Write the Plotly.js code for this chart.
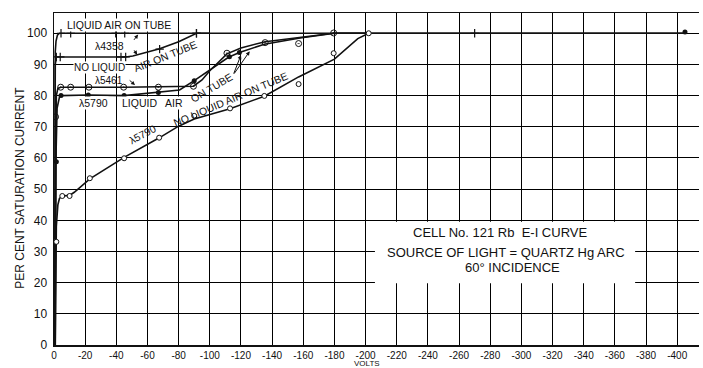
<!DOCTYPE html>
<html><head><meta charset="utf-8">
<script src="https://cdn.plot.ly/plotly-3.0.1.min.js"></script>
<style>html,body{margin:0;padding:0;background:#fff}#chart{width:703px;height:368px}</style>
</head><body><div id="chart"></div>
<script>
// ---- data (volts, per cent saturation current) ----
// lambda 4358, liquid air on tube
const l4358LiqCurveV = [-0.5, -0.8, -1.3, -2.2, -3.5, -405];
const l4358LiqCurveI = [0, 94, 97.5, 99.4, 100, 100];
const l4358LiqPtsV = [-4.5, -10.7, -39.6, -45.4, -91.4, -270];
const l4358LiqPtsI = [100, 100, 100, 100, 100, 100];
// lambda 4358, no liquid air on tube
const l4358NoCurveV = [-0.5, -0.8, -1.5, -46, -50.6, -59.3, -67.8, -80, -91.5, -100];
const l4358NoCurveI = [0, 90, 92.4, 92.4, 92.7, 93.8, 95, 97.3, 100, 100];
const l4358NoPtsV = [-1.5, -4, -43, -46, -67.8, -91.5];
const l4358NoPtsI = [92.4, 92.4, 92.4, 92.4, 94.9, 100];
// lambda 5461
const l5461CurveV = [-0.6, -1, -1.5, -2.5, -4.3, -45, -89.5, -95, -100, -111, -120, -135.5, -158, -179.5, -202];
const l5461CurveI = [0, 73, 80, 82.3, 82.7, 82.7, 83, 85, 88, 93.4, 95.3, 97.3, 98.7, 100, 100];
const l5461PtsV = [-1, -4.3, -10.7, -22.4, -44.7, -67, -89.5, -111, -135.5, -157, -179.5];
const l5461PtsI = [73.2, 82.7, 82.7, 82.7, 82.7, 82.7, 83, 93.6, 97, 96.7, 100.1];
// lambda 5790, liquid air on tube
const l5790LiqCurveV = [-0.8, -1.2, -2, -3.5, -4.5, -22, -45, -67, -80.6, -90, -102, -112, -119, -135, -158, -180, -405];
const l5790LiqCurveI = [0, 59, 76, 79.5, 80, 80.2, 80, 81, 81.8, 84.8, 88.9, 92.3, 93.8, 96.5, 98.5, 100, 100];
const l5790LiqPtsV = [-1.5, -4.5, -22, -45, -67, -90, -112.6, -119, -405];
const l5790LiqPtsI = [58.8, 80, 80.2, 80, 81, 84.8, 92.5, 93.8, 100.4];
// lambda 5790, no liquid air on tube
const l5790NoCurveV = [-0.8, -1, -1.5, -2.5, -3.5, -5.3, -10, -13, -23, -45, -67, -80, -90, -113, -135, -157, -180, -195, -202];
const l5790NoCurveI = [0, 20, 38, 45, 47, 47.8, 48, 49, 53.3, 60.2, 66.3, 70.2, 72.5, 75.8, 79.8, 86, 91.7, 98.3, 100];
const l5790NoPtsV = [-1.5, -5.3, -10, -23, -45, -67.5, -90, -113, -135, -157, -179.5, -202];
const l5790NoPtsI = [33.1, 47.8, 47.8, 53.5, 59.9, 66.5, 73.5, 75.9, 79.9, 83.7, 93.6, 100];
// axis ticks
const xTickVals = [0,-20,-40,-60,-80,-100,-120,-140,-160,-180,-200,-220,-240,-260,-280,-300,-320,-340,-360,-380,-400];
const xTickText = ['0','-20','-40','-60','-80','-100','-120','-140','-160','-180','-200','-220','-240','-260','-280','-300','-320','-340','-360','-380','-400'];
const yTickVals = [0,10,20,30,40,50,60,70,80,90,100];

const FONT = 'Liberation Sans, Arial, sans-serif';
const INK = '#111';
const lineStyle = {color: INK, width: 1.6};
function curve(x, y) { return {x, y, type: 'scatter', mode: 'lines', line: lineStyle, hoverinfo: 'skip', showlegend: false}; }
function pts(x, y, marker) { return {x, y, type: 'scatter', mode: 'markers', marker, hoverinfo: 'skip', showlegend: false}; }

const plus = {symbol: 'cross-thin-open', size: 6, color: INK, line: {color: INK, width: 1.2}};
const dotCircle = {symbol: 'circle-open-dot', size: 6, color: INK, line: {color: INK, width: 1}};
const filled = {symbol: 'circle', size: 5, color: INK, line: {color: INK, width: 0}};
const open = {symbol: 'circle', size: 5, color: 'white', line: {color: INK, width: 1}};

const data = [
  curve(l5790NoCurveV, l5790NoCurveI),
  curve(l5790LiqCurveV, l5790LiqCurveI),
  curve(l5461CurveV, l5461CurveI),
  curve(l4358NoCurveV, l4358NoCurveI),
  curve(l4358LiqCurveV, l4358LiqCurveI),
  pts(l4358LiqPtsV, l4358LiqPtsI, plus),
  pts(l4358NoPtsV, l4358NoPtsI, plus),
  pts(l5461PtsV, l5461PtsI, dotCircle),
  pts(l5790LiqPtsV, l5790LiqPtsI, filled),
  pts(l5790NoPtsV, l5790NoPtsI, open)
];

const CLEAR = 'rgba(0,0,0,0)';
function label(text, x, y, opts) {
  return Object.assign({text, x, y, xref: 'x', yref: 'y', showarrow: false,
    font: {family: FONT, size: 10.5, color: INK}, bgcolor: 'white', borderpad: 0}, opts || {});
}
function arrow(x, y, ax, ay) {
  return {text: '', x, y, ax, ay, xref: 'x', yref: 'y', axref: 'x', ayref: 'y',
    showarrow: true, arrowhead: 2, arrowsize: 0.8, arrowwidth: 1, arrowcolor: INK};
}
const small = {family: FONT, size: 10, color: INK};

const annotations = [
  label('LIQUID AIR ON TUBE', -42, 102.8),
  label('λ4358', -35.8, 96.0, {bgcolor: CLEAR}),
  arrow(-54, 99.6, -50.6, 97.4),
  arrow(-53.4, 93.1, -50.8, 95),
  label('NO LIQUID', -29.2, 89.0, {font: small}),
  label('AIR ON TUBE', -71.7, 92.6, {textangle: -22, bgcolor: CLEAR}),
  label('λ5461', -35.4, 85.0, {bgcolor: CLEAR, font: small}),
  arrow(-52, 83.4, -47.6, 85.3),
  label('λ5790', -25.5, 77.6),
  label('LIQUID', -55, 77.6),
  label('AIR', -77.2, 77.6),
  label('ON TUBE', -100.6, 82.6, {textangle: -31, bgcolor: CLEAR}),
  arrow(-120, 93, -115, 86.6),
  arrow(-125.6, 94.2, -115, 86.6),
  label('λ5790', -57, 67.7, {textangle: -28, bgcolor: CLEAR}),
  label('NO LIQUID AIR ON TUBE', -113.5, 78.9, {textangle: -23, bgcolor: CLEAR}),
  label('CELL No. 121 Rb  E-I CURVE', -286, 36.2, {font: {family: FONT, size: 13, color: INK}, bgcolor: CLEAR}),
  label('SOURCE OF LIGHT = QUARTZ Hg ARC', -290, 29.8, {font: {family: FONT, size: 13, color: INK}, bgcolor: CLEAR}),
  label('60° INCIDENCE', -294.5, 24.9, {font: {family: FONT, size: 13, color: INK}, bgcolor: CLEAR}),
  {text: 'PER CENT SATURATION CURRENT', xref: 'paper', yref: 'paper', x: -0.052, y: 0.475,
   xanchor: 'center', yanchor: 'middle', textangle: -90, showarrow: false,
   font: {family: FONT, size: 12, color: INK}},
  {text: 'VOLTS', xref: 'paper', yref: 'paper', x: 0.486, y: -0.056, xanchor: 'center', yanchor: 'middle',
   showarrow: false, font: {family: FONT, size: 8, color: INK}}
];

const layout = {
  width: 703, height: 368,
  margin: {l: 54, r: 4, t: 13, b: 23, pad: 0},
  paper_bgcolor: 'white', plot_bgcolor: 'white',
  showlegend: false,
  xaxis: {range: [0, -414], tickvals: xTickVals, ticktext: xTickText, ticks: '',
    showgrid: true, gridcolor: '#000', gridwidth: 1, zeroline: false,
    showline: true, linecolor: INK, linewidth: 1.5, mirror: true,
    tickfont: {family: FONT, size: 10, color: INK}, ticklabelstandoff: 0},
  yaxis: {range: [0, 106.5], tickvals: yTickVals, ticks: '',
    showgrid: true, gridcolor: '#000', gridwidth: 1, zeroline: false,
    showline: true, linecolor: INK, linewidth: 1.5,
    tickfont: {family: FONT, size: 12, color: INK}, ticklabelstandoff: 3},
  shapes: [
    {type: 'rect', xref: 'x', yref: 'y', x0: -206, x1: -373, y0: 19.8, y1: 39.5,
     fillcolor: 'white', line: {width: 0}, layer: 'between'}
  ],
  annotations
};

Plotly.newPlot('chart', data, layout, {staticPlot: true, displayModeBar: false});
</script>
</body></html>
